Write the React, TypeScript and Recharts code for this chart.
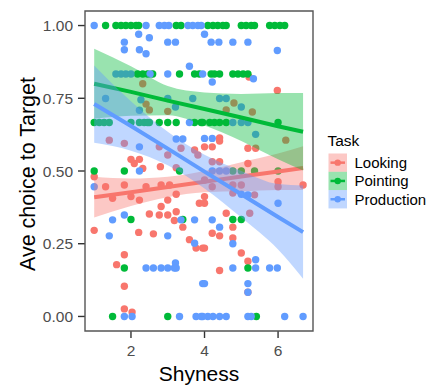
import React from "react";
import { ComposedChart, Scatter, Area, Line, XAxis, YAxis, ReferenceArea } from "recharts";

// ---- data ----
const tasks = ["Looking", "Pointing", "Production"];
const taskColors = ["#F8766D", "#00BA38", "#619CFF"];

const xTicks = [2, 4, 6];
const yTicks = [0, 0.25, 0.5, 0.75, 1];

const lookingPoints: number[][] = [
  [2.32, 0.8], [2.41, 0.73], [2.5, 0.71], [3.0, 0.705], [4.59, 0.71], [4.8, 0.734], [5.3, 0.703], [5.21, 0.823], [5.98, 0.777], [6.21, 0.606],
  [1.41, 0.606], [1.82, 0.595], [2.77, 0.583], [3.36, 0.578], [3.73, 0.572], [3.0, 0.555], [3.82, 0.555],
  [2.0, 0.54], [2.23, 0.54], [2.09, 0.526], [2.8, 0.515], [3.23, 0.511], [2.32, 0.509], [1.0, 0.48], [1.31, 0.446], [1.82, 0.452],
  [2.41, 0.446], [2.82, 0.452], [3.05, 0.452], [3.23, 0.42], [1.5, 0.406], [2.0, 0.412], [2.23, 0.4], [3.0, 0.4], [2.82, 0.378],
  [2.5, 0.352], [2.77, 0.349], [3.0, 0.349], [3.23, 0.36], [3.86, 0.389], [3.18, 0.33],
  [4.41, 0.614], [4.41, 0.603], [4.0, 0.583], [4.21, 0.583], [5.18, 0.578], [5.39, 0.578], [5.18, 0.526], [4.21, 0.532], [4.41, 0.532],
  [4.0, 0.469], [4.21, 0.446], [4.77, 0.452], [5.0, 0.452], [5.36, 0.418], [6.0, 0.463], [6.0, 0.446], [6.68, 0.452], [4.59, 0.355],
  [5.23, 0.355], [4.0, 0.412], [4.0, 0.389], [4.77, 0.424],
  [1.0, 0.296], [2.21, 0.289], [2.61, 0.284], [3.41, 0.307], [3.59, 0.264], [3.77, 0.235], [3.95, 0.235], [1.82, 0.212], [1.61, 0.178],
  [1.82, 0.104], [1.82, 0.026], [2.03, 0.015],
  [4.21, 0.286], [4.41, 0.277], [4.77, 0.307], [4.77, 0.27], [4.0, 0.235], [5.0, 0.218], [5.18, 0.19], [4.41, 0.158], [5.18, 0.083],
];

const pointingPoints: number[][] = [
  [1.31, 1], [1.59, 1], [1.73, 1], [1.86, 1], [2.0, 1], [2.14, 1], [2.21, 1], [3.23, 1], [3.36, 1], [4.09, 1], [4.23, 1], [4.36, 1],
  [4.5, 1], [4.59, 1], [5.0, 1], [5.13, 1], [5.27, 1], [5.36, 1], [5.77, 1], [5.91, 1], [6.05, 1], [6.18, 1],
  [2.18, 0.8333], [2.32, 0.8333], [2.45, 0.8333], [2.59, 0.8333], [3.32, 0.8333], [3.73, 0.8333], [3.86, 0.8333], [4.18, 0.8333],
  [4.27, 0.8333], [4.41, 0.8333], [4.77, 0.8333], [4.91, 0.8333], [5.05, 0.8333], [5.18, 0.8333],
  [1.0, 0.6667], [1.14, 0.6667], [1.27, 0.6667], [1.41, 0.6667], [2.0, 0.6667], [2.23, 0.6667], [2.36, 0.6667], [2.45, 0.6667],
  [2.5, 0.6667], [2.77, 0.6667], [3.0, 0.6667], [3.23, 0.6667], [3.73, 0.6667], [3.91, 0.6667], [3.95, 0.6667], [4.14, 0.6667],
  [4.27, 0.6667], [4.41, 0.6667], [4.59, 0.6667], [6.0, 0.6667],
  [1.0, 0.5], [1.82, 0.5], [3.32, 0.5], [4.77, 0.5], [5.0, 0.5], [5.36, 0.5], [6.0, 0.5],
  [2.0, 0.3333], [3.41, 0.3333], [4.77, 0.3333], [5.0, 0.3333],
  [1.82, 0.1667], [5.18, 0.1667],
  [1.5, 0], [3.0, 0], [5.41, 0],
];

const productionPoints: number[][] = [
  [1.0, 1], [2.41, 1], [2.77, 1], [2.91, 1], [3.03, 1], [3.55, 1], [3.68, 1], [3.82, 1], [3.91, 1],
  [2.21, 0.97], [2.5, 0.958], [1.82, 0.943], [1.82, 0.917], [2.23, 0.917], [2.41, 0.903], [3.0, 0.943], [3.21, 0.943], [3.59, 0.86],
  [4.0, 0.97], [4.18, 0.943], [4.39, 0.943], [4.77, 0.943], [5.18, 0.943], [5.98, 0.914],
  [1.59, 0.8333], [1.73, 0.8333], [1.86, 0.8333], [2.0, 0.8333], [2.52, 0.8333], [3.0, 0.8333], [3.95, 0.8333], [4.21, 0.806], [5.33, 0.817],
  [1.31, 0.749], [2.27, 0.745], [3.0, 0.749], [3.21, 0.72], [3.68, 0.749], [2.23, 0.709], [4.41, 0.749], [4.59, 0.749], [5.0, 0.72],
  [3.59, 0.6667], [4.77, 0.6667], [5.0, 0.6667], [5.18, 0.6667],
  [5.39, 0.626], [3.23, 0.61], [3.41, 0.61], [2.23, 0.583], [2.23, 0.5], [1.0, 0.446], [1.5, 0.332], [1.82, 0.349], [3.36, 0.332],
  [3.73, 0.332], [4.0, 0.612], [4.21, 0.612], [4.21, 0.5], [4.41, 0.5], [4.59, 0.5], [5.0, 0.42], [5.18, 0.418], [6.0, 0.389],
  [4.21, 0.332], [4.41, 0.307],
  [1.41, 0.277], [3.0, 0.277], [3.73, 0.252], [4.77, 0.25], [5.39, 0.195], [3.21, 0.184],
  [2.41, 0.1667], [2.61, 0.1667], [2.82, 0.1667], [3.0, 0.1667], [3.18, 0.1667], [3.23, 0.1667], [4.77, 0.1667], [5.39, 0.1667],
  [5.77, 0.1667], [5.98, 0.1667],
  [3.95, 0.113], [4.0, 0.113], [5.18, 0.113], [5.18, 0.083],
  [1.82, 0], [2.03, 0], [3.32, 0], [3.77, 0], [3.91, 0], [3.95, 0], [4.09, 0], [4.23, 0], [4.41, 0], [4.59, 0], [5.18, 0], [5.27, 0],
  [6.18, 0], [6.68, 0],
];

// fitted lines and confidence bands
const fitX = [1.0, 2, 3, 4, 5, 6, 6.68];
const lookingFit = [0.41, 0.427, 0.445, 0.463, 0.481, 0.498, 0.51];
const lookingLow = [0.34, 0.38, 0.41, 0.427, 0.43, 0.435, 0.435];
const lookingHigh = [0.48, 0.474, 0.48, 0.5, 0.53, 0.56, 0.585];
const pointingFit = [0.8, 0.772, 0.742, 0.713, 0.684, 0.654, 0.635];
const pointingLow = [0.68, 0.69, 0.692, 0.656, 0.603, 0.54, 0.502];
const pointingHigh = [0.92, 0.86, 0.792, 0.77, 0.765, 0.768, 0.768];
const productionFit = [0.73, 0.655, 0.577, 0.498, 0.42, 0.342, 0.29];
const productionLow = [0.597, 0.57, 0.52, 0.44, 0.34, 0.23, 0.13];
const productionHigh = [0.863, 0.74, 0.635, 0.556, 0.5, 0.455, 0.45];

const fitTable = fitX.map((x, i) => ({
  x,
  lookingFit: lookingFit[i],
  lookingBand: [lookingLow[i], lookingHigh[i]],
  pointingFit: pointingFit[i],
  pointingBand: [pointingLow[i], pointingHigh[i]],
  productionFit: productionFit[i],
  productionBand: [productionLow[i], productionHigh[i]],
}));

const toXY = (pts: number[][]) => pts.map(([x, y]) => ({ x, y }));

const X_DOMAIN: [number, number] = [0.75, 6.95];
const Y_DOMAIN: [number, number] = [-0.05, 1.05];
const FONT = "'Liberation Sans', Arial, Helvetica, sans-serif";

const dot = (color: string) => (p: any) => <circle cx={p.cx} cy={p.cy} r={3.7} fill={color} />;

export default function App() {
  const W = 420;
  const H = 381;
  return (
    <div style={{ position: "relative", width: W, height: H, fontFamily: FONT, background: "#fff" }}>
      <ComposedChart width={W} height={H} data={fitTable} margin={{ top: 3, right: 115, bottom: 0, left: 17 }}>
        <XAxis
          type="number"
          dataKey="x"
          domain={X_DOMAIN}
          allowDataOverflow
          ticks={xTicks}
          height={58}
          axisLine={false}
          tickLine={{ stroke: "#333", strokeWidth: 1.4 }}
          tickSize={7}
          tickMargin={7}
          tick={{ fill: "#4D4D4D", fontSize: 15.5, fontFamily: FONT }}
        />
        <YAxis
          type="number"
          domain={Y_DOMAIN}
          allowDataOverflow
          ticks={yTicks}
          width={60}
          axisLine={false}
          tickLine={{ stroke: "#333", strokeWidth: 1.4 }}
          tickSize={7}
          tickMargin={5}
          tickFormatter={(v: number) => v.toFixed(2)}
          tick={{ fill: "#4D4D4D", fontSize: 15.5, fontFamily: FONT }}
        />
        <Scatter data={toXY(lookingPoints)} dataKey="y" shape={dot(taskColors[0])} isAnimationActive={false} zIndex={100} />
        <Scatter data={toXY(pointingPoints)} dataKey="y" shape={dot(taskColors[1])} isAnimationActive={false} zIndex={101} />
        <Scatter data={toXY(productionPoints)} dataKey="y" shape={dot(taskColors[2])} isAnimationActive={false} zIndex={102} />
        <Area dataKey="lookingBand" type="monotone" fill={taskColors[0]} fillOpacity={0.4} stroke="none" dot={false} activeDot={false} isAnimationActive={false} zIndex={200} />
        <Line dataKey="lookingFit" type="linear" stroke={taskColors[0]} strokeWidth={4} dot={false} activeDot={false} isAnimationActive={false} zIndex={201} />
        <Area dataKey="pointingBand" type="monotone" fill={taskColors[1]} fillOpacity={0.4} stroke="none" dot={false} activeDot={false} isAnimationActive={false} zIndex={202} />
        <Line dataKey="pointingFit" type="linear" stroke={taskColors[1]} strokeWidth={4} dot={false} activeDot={false} isAnimationActive={false} zIndex={203} />
        <Area dataKey="productionBand" type="monotone" fill={taskColors[2]} fillOpacity={0.4} stroke="none" dot={false} activeDot={false} isAnimationActive={false} zIndex={204} />
        <Line dataKey="productionFit" type="linear" stroke={taskColors[2]} strokeWidth={4} dot={false} activeDot={false} isAnimationActive={false} zIndex={205} />
        <ReferenceArea x1={X_DOMAIN[0]} x2={X_DOMAIN[1]} y1={Y_DOMAIN[0]} y2={Y_DOMAIN[1]} fill="none" fillOpacity={0} stroke="#555" strokeWidth={1.4} ifOverflow="extendDomain" zIndex={900} />
      </ComposedChart>
      <svg width={W} height={H} style={{ position: "absolute", left: 0, top: 0, pointerEvents: "none" }}>
        <text x={191} y={373} textAnchor="middle" fontSize={21} fill="#000" fontFamily={FONT}>Shyness</text>
        <text transform="translate(27,166) rotate(-90)" textAnchor="middle" fontSize={21.5} fill="#000" fontFamily={FONT}>Ave choice to Target</text>
        <text x={319.5} y={138} fontSize={15.5} fill="#000" fontFamily={FONT}>Task</text>
        {tasks.map((t, i) => {
          const y0 = 145.5 + i * 18.3;
          return (
            <g key={t}>
              <rect x={320.5} y={y0} width={18.5} height={18.3} fill={taskColors[i]} fillOpacity={0.4} />
              <line x1={322.5} x2={337} y1={y0 + 9.15} y2={y0 + 9.15} stroke={taskColors[i]} strokeWidth={2.5} />
              <circle cx={329.7} cy={y0 + 9.15} r={3.2} fill={taskColors[i]} />
              <text x={346.5} y={y0 + 9.15} dominantBaseline="central" fontSize={15} fill="#000" fontFamily={FONT}>{t}</text>
            </g>
          );
        })}
      </svg>
    </div>
  );
}
